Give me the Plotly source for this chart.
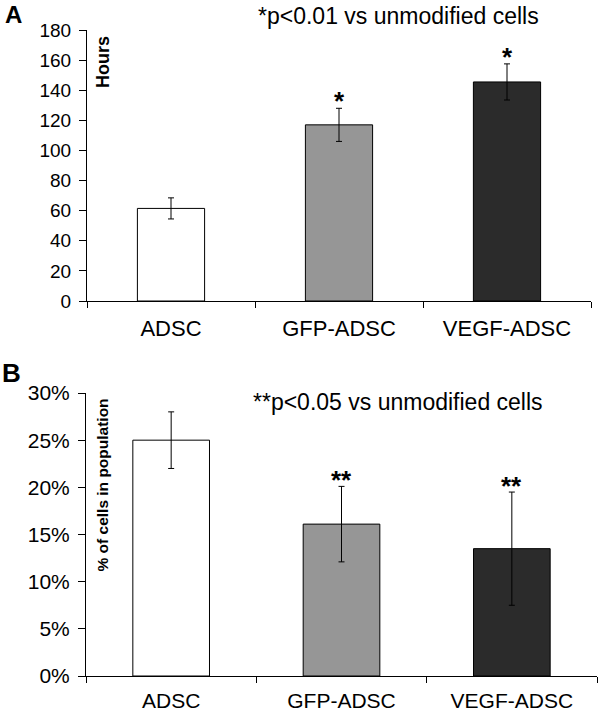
import plotly.graph_objects as go

categories = ["ADSC", "GFP-ADSC", "VEGF-ADSC"]
bar_colors = ["#ffffff", "#969696", "#2b2b2b"]

hours = [61.5, 117, 145.5]
hours_err = [7, 11, 12]
hours_marks = ["", "*", "*"]
hours_ticks = [0, 20, 40, 60, 80, 100, 120, 140, 160, 180]

pct = [25.0, 16.1, 13.5]
pct_err = [3.0, 4.0, 6.0]
pct_marks = ["", "**", "**"]
pct_ticks = [0, 5, 10, 15, 20, 25, 30]

FONT = "Liberation Sans, Arial, sans-serif"
W, H = 600, 713

def px_x(x):
    return x / W

def px_y(y):
    return (H - y) / H

fig = go.Figure()

fig.add_trace(go.Bar(
    x=categories, y=hours, width=0.4,
    marker=dict(color=bar_colors, line=dict(color="black", width=1)),
    error_y=dict(type="data", array=hours_err, color="black", thickness=1, width=3),
    xaxis="x", yaxis="y", showlegend=False,
))
fig.add_trace(go.Bar(
    x=categories, y=[v / 100 for v in pct], width=0.45,
    marker=dict(color=bar_colors, line=dict(color="black", width=1)),
    error_y=dict(type="data", array=[e / 100 for e in pct_err], color="black", thickness=1, width=3),
    xaxis="x2", yaxis="y2", showlegend=False,
))

axis_common = dict(showline=True, linecolor="black", linewidth=1, ticks="outside",
                   tickcolor="black", tickwidth=1, showgrid=False, zeroline=False,
                   automargin=False)

fig.update_layout(
    template="none",
    width=W, height=H,
    margin=dict(l=0, r=0, t=0, b=0, autoexpand=False),
    paper_bgcolor="white", plot_bgcolor="white",
    font=dict(family=FONT, color="black"),
    xaxis=dict(domain=[px_x(87), px_x(591)], anchor="y", range=[-0.5, 2.5],
               tickson="boundaries", ticklen=6, tickfont=dict(size=22),
               ticklabelstandoff=8, **axis_common),
    yaxis=dict(domain=[px_y(301), px_y(30)], anchor="x", range=[0, 180],
               tickvals=hours_ticks, ticklen=7, tickfont=dict(size=19),
               ticklabelstandoff=4, **axis_common),
    xaxis2=dict(domain=[px_x(86), px_x(597)], anchor="y2", range=[-0.5, 2.5],
                tickson="boundaries", ticklen=6, tickfont=dict(size=21),
                ticklabelstandoff=6, **axis_common),
    yaxis2=dict(domain=[px_y(676), px_y(393)], anchor="x2", range=[0, 0.30],
                tickvals=[t / 100 for t in pct_ticks], tickformat=".0%", ticklen=7,
                tickfont=dict(size=21), ticklabelstandoff=4, **axis_common),
)

ann = []

def note(text, x, y, size, angle=0):
    ann.append(dict(text=text, xref="paper", yref="paper", x=px_x(x), y=px_y(y),
                    xanchor="center", yanchor="middle", showarrow=False,
                    textangle=angle, font=dict(size=size)))

# panel letters
note("<b>A</b>", 13, 15, 24)
note("<b>B</b>", 11, 373, 26)
# axis titles inside plots
note("<b>Hours</b>", 103, 62, 18, -90)
note("<b>% of cells in population</b>", 101.5, 485, 15.5, -90)
# significance notes
note("*p<0.01 vs unmodified cells", 398, 16, 23)
note("**p<0.05 vs unmodified cells", 398, 402, 23)
# asterisks over bars
for c, v, e, m in zip(categories, hours, hours_err, hours_marks):
    if m:
        ann.append(dict(text="<b>" + m + "</b>", x=c, y=v + e, xref="x", yref="y",
                        xanchor="center", showarrow=False, yanchor="bottom", yshift=-10,
                        font=dict(size=26)))
for c, v, e, m in zip(categories, pct, pct_err, pct_marks):
    if m:
        ann.append(dict(text="<b>" + m + "</b>", x=c, y=(v + e) / 100, xref="x2", yref="y2",
                        xanchor="center", showarrow=False, yanchor="bottom", yshift=-11,
                        font=dict(size=26)))
fig.update_layout(annotations=ann)

fig.write_html("out.html",
               config={"displayModeBar": False},
               post_script="document.body.style.margin='0';document.body.style.padding='0';")
